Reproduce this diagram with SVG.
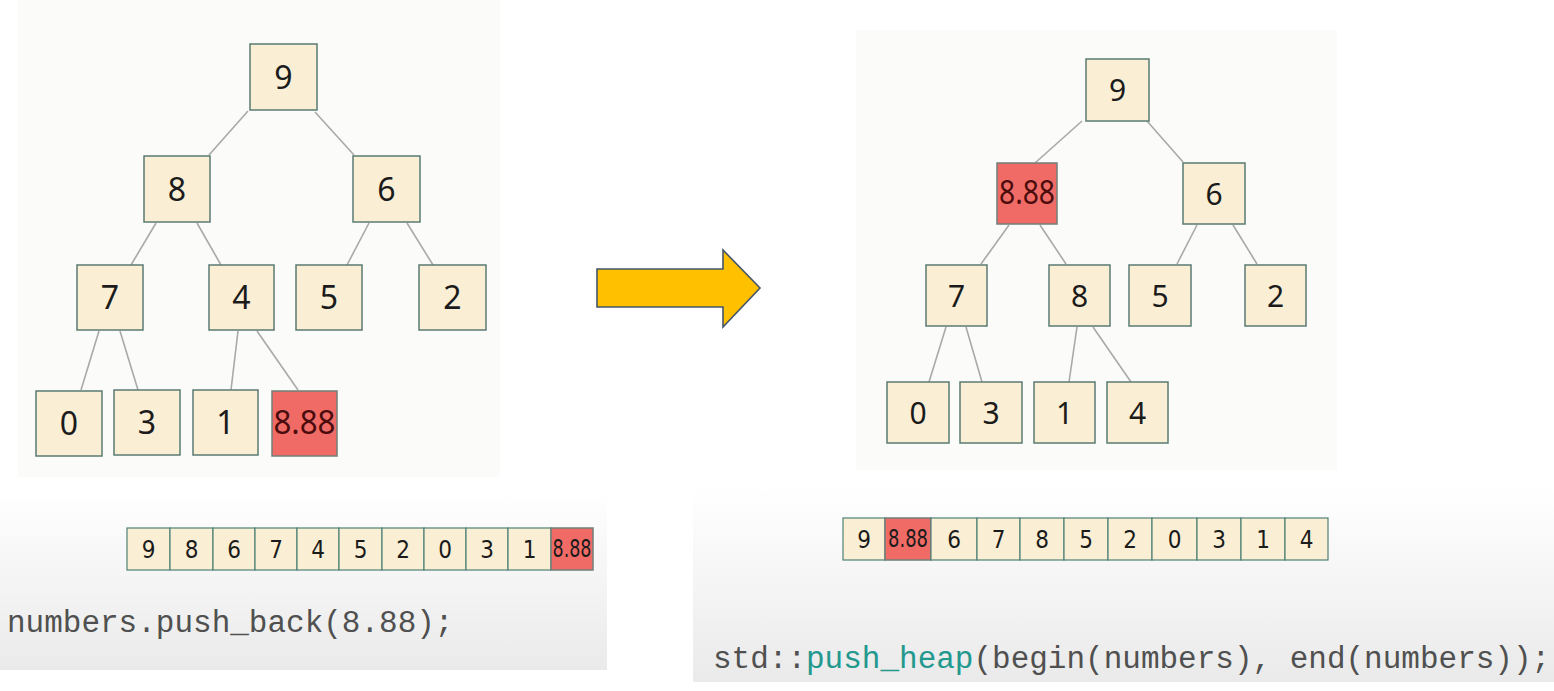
<svg xmlns="http://www.w3.org/2000/svg" width="1554" height="691" viewBox="0 0 1554 691">
<defs>
<linearGradient id="band" x1="0" y1="0" x2="0" y2="1">
<stop offset="0" stop-color="#ffffff"/>
<stop offset="1" stop-color="#e9eae9"/>
</linearGradient>
<style>
.node{fill:#faefd4;stroke:#5a7b72;stroke-width:1.5}
.hot{fill:#f16b66;stroke:#6f7f7a;stroke-width:1.5}
.t{font-family:"Noto Sans","Open Sans","DejaVu Sans",sans-serif;font-size:32px;fill:#1b1b1b;text-anchor:middle}
.tr{font-size:30px}
.th{fill:#4a0c0c}
.edge{stroke:#a9a9a9;stroke-width:1.6;fill:none}
.cell{fill:#faefd4;stroke:#4f8076;stroke-width:1.2}
.ct{font-family:"Liberation Sans Narrow","DejaVu Sans Condensed","Roboto","Noto Sans",sans-serif;font-stretch:condensed;font-size:24px;fill:#1b1b1b;text-anchor:middle}
.code{font-family:"Liberation Mono","Courier New",monospace;font-size:31px;fill:#505050}
.kw{fill:#23988f}
</style>
</defs>
<rect width="1554" height="691" fill="#ffffff"/>
<rect x="18" y="0" width="482" height="477" fill="#fbfbf9"/>
<rect x="856" y="30" width="481" height="440" fill="#fbfbf9"/>
<rect x="0" y="490" width="607" height="180" fill="url(#band)"/>
<rect x="693" y="487" width="861" height="195" fill="url(#band)"/>

<g id="connectors">
<line class="edge" x1="248" y1="111" x2="209" y2="155"/>
<line class="edge" x1="315" y1="112" x2="354" y2="155"/>
<line class="edge" x1="156" y1="223" x2="131" y2="265"/>
<line class="edge" x1="197" y1="223" x2="221" y2="265"/>
<line class="edge" x1="369" y1="223" x2="347" y2="265"/>
<line class="edge" x1="407" y1="223" x2="433" y2="265"/>
<line class="edge" x1="99" y1="331" x2="81" y2="390"/>
<line class="edge" x1="120" y1="331" x2="138" y2="390"/>
<line class="edge" x1="238" y1="331" x2="231" y2="390"/>
<line class="edge" x1="257" y1="331" x2="298" y2="390"/>

<line class="edge" x1="1082" y1="121" x2="1035" y2="163"/>
<line class="edge" x1="1147" y1="121" x2="1183" y2="162"/>
<line class="edge" x1="1009" y1="225" x2="981" y2="264"/>
<line class="edge" x1="1040" y1="225" x2="1066" y2="264"/>
<line class="edge" x1="1197" y1="225" x2="1177" y2="264"/>
<line class="edge" x1="1233" y1="225" x2="1257" y2="264"/>
<line class="edge" x1="946" y1="327" x2="929" y2="382"/>
<line class="edge" x1="966" y1="327" x2="982" y2="382"/>
<line class="edge" x1="1077" y1="327" x2="1069" y2="382"/>
<line class="edge" x1="1093" y1="327" x2="1131" y2="382"/>
</g>

<g id="L9"><rect class="node" x="250" y="44" width="67" height="66"/><text class="t" x="283.5" y="88.5">9</text></g>
<g id="L8"><rect class="node" x="144" y="156" width="66" height="66"/><text class="t" x="177" y="200.5">8</text></g>
<g id="L6"><rect class="node" x="353" y="156" width="67" height="66"/><text class="t" x="386.5" y="200.5">6</text></g>
<g id="L7"><rect class="node" x="77" y="265" width="66" height="65"/><text class="t" x="110" y="309">7</text></g>
<g id="L4"><rect class="node" x="209" y="265" width="65" height="65"/><text class="t" x="241.5" y="309">4</text></g>
<g id="L5"><rect class="node" x="296" y="265" width="66" height="65"/><text class="t" x="329" y="309">5</text></g>
<g id="L2"><rect class="node" x="419" y="265" width="67" height="65"/><text class="t" x="452.5" y="309">2</text></g>
<g id="L0"><rect class="node" x="36" y="391" width="66" height="65"/><text class="t" x="69" y="435">0</text></g>
<g id="L3"><rect class="node" x="114" y="390" width="66" height="65"/><text class="t" x="147" y="434">3</text></g>
<g id="L1"><rect class="node" x="193" y="390" width="65" height="65"/><text class="t" x="225.5" y="434">1</text></g>
<g id="L888"><rect class="hot" x="272" y="391" width="65" height="65"/><text class="t th" x="304.5" y="434" font-size="28" textLength="62" lengthAdjust="spacingAndGlyphs">8.88</text></g>

<g id="arrow"><polygon points="597,269 723,269 723,250 760,288 723,327 723,307 597,307" fill="#ffc000" stroke="#44546a" stroke-width="1.6" stroke-linejoin="miter"/></g>

<g id="R9"><rect class="node" x="1086" y="59" width="63" height="62"/><text class="t tr" x="1117.5" y="101">9</text></g>
<g id="R888"><rect class="hot" x="997" y="163" width="60" height="61"/><text class="t th" x="1027" y="204" font-size="27" textLength="56" lengthAdjust="spacingAndGlyphs">8.88</text></g>
<g id="R6"><rect class="node" x="1183" y="163" width="62" height="61"/><text class="t tr" x="1214" y="204.5">6</text></g>
<g id="R7"><rect class="node" x="926" y="265" width="61" height="61"/><text class="t tr" x="956.5" y="306.5">7</text></g>
<g id="R8"><rect class="node" x="1049" y="265" width="61" height="61"/><text class="t tr" x="1079.5" y="306.5">8</text></g>
<g id="R5"><rect class="node" x="1129" y="265" width="62" height="61"/><text class="t tr" x="1160" y="306.5">5</text></g>
<g id="R2"><rect class="node" x="1245" y="265" width="61" height="61"/><text class="t tr" x="1275.5" y="306.5">2</text></g>
<g id="R0"><rect class="node" x="887" y="382" width="62" height="61"/><text class="t tr" x="918" y="423.5">0</text></g>
<g id="R3"><rect class="node" x="960" y="382" width="62" height="61"/><text class="t tr" x="991" y="423.5">3</text></g>
<g id="R1"><rect class="node" x="1034" y="382" width="61" height="61"/><text class="t tr" x="1064.5" y="423.5">1</text></g>
<g id="R4"><rect class="node" x="1107" y="382" width="61" height="61"/><text class="t tr" x="1137.5" y="423.5">4</text></g>

<g id="arrayLeft">
<rect class="cell" x="127" y="528" width="43" height="42"/><text class="ct" x="148.5" y="558">9</text>
<rect class="cell" x="170" y="528" width="43" height="42"/><text class="ct" x="191.5" y="558">8</text>
<rect class="cell" x="213" y="528" width="42" height="42"/><text class="ct" x="234" y="558">6</text>
<rect class="cell" x="255" y="528" width="42" height="42"/><text class="ct" x="276" y="558">7</text>
<rect class="cell" x="297" y="528" width="42" height="42"/><text class="ct" x="318" y="558">4</text>
<rect class="cell" x="339" y="528" width="43" height="42"/><text class="ct" x="360.5" y="558">5</text>
<rect class="cell" x="382" y="528" width="42" height="42"/><text class="ct" x="403" y="558">2</text>
<rect class="cell" x="424" y="528" width="42" height="42"/><text class="ct" x="445" y="558">0</text>
<rect class="cell" x="466" y="528" width="42" height="42"/><text class="ct" x="487" y="558">3</text>
<rect class="cell" x="508" y="528" width="43" height="42"/><text class="ct" x="529.5" y="558">1</text>
<rect class="hot" x="551" y="528" width="42" height="42" stroke-width="1.2"/><text class="ct th" x="572" y="557" font-size="21" textLength="39" lengthAdjust="spacingAndGlyphs">8.88</text>
</g>

<g id="arrayRight">
<rect class="cell" x="843" y="518" width="42" height="42"/><text class="ct" x="864" y="548">9</text>
<rect class="hot" x="885" y="518" width="46" height="42" stroke-width="1.2"/><text class="ct th" x="908" y="547" font-size="21" textLength="40" lengthAdjust="spacingAndGlyphs">8.88</text>
<rect class="cell" x="931" y="518" width="46" height="42"/><text class="ct" x="954" y="548">6</text>
<rect class="cell" x="977" y="518" width="43" height="42"/><text class="ct" x="998.5" y="548">7</text>
<rect class="cell" x="1020" y="518" width="44" height="42"/><text class="ct" x="1042" y="548">8</text>
<rect class="cell" x="1064" y="518" width="44" height="42"/><text class="ct" x="1086" y="548">5</text>
<rect class="cell" x="1108" y="518" width="44" height="42"/><text class="ct" x="1130" y="548">2</text>
<rect class="cell" x="1152" y="518" width="45" height="42"/><text class="ct" x="1174.5" y="548">0</text>
<rect class="cell" x="1197" y="518" width="44" height="42"/><text class="ct" x="1219" y="548">3</text>
<rect class="cell" x="1241" y="518" width="44" height="42"/><text class="ct" x="1263" y="548">1</text>
<rect class="cell" x="1285" y="518" width="43" height="42"/><text class="ct" x="1306.5" y="548">4</text>
</g>

<text class="code" x="7" y="632">numbers.push_back(8.88);</text>
<text class="code" x="713" y="668">std::<tspan class="kw">push_heap</tspan>(begin(numbers), end(numbers));</text>
</svg>
